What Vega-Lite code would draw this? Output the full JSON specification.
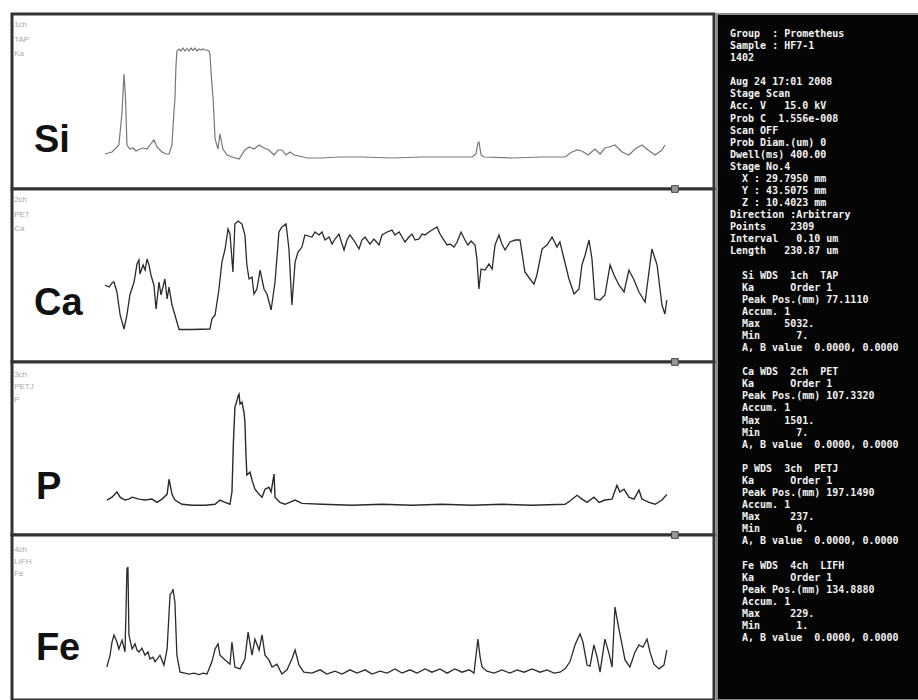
{
"$schema": "https://vega.github.io/schema/vega-lite/v6.json",
"background": "white",
"padding": {"left": 10, "top": 12, "right": 0, "bottom": 0},
"config": {"view": {"stroke": null}},
"datasets": {
"si": [{"d":1.2,"c":270},{"d":4.1,"c":360},{"d":6.9,"c":674},{"d":8.2,"c":2157},{"d":9.0,"c":3864},{"d":9.6,"c":2830},{"d":10.2,"c":674},{"d":11.4,"c":494},{"d":12.7,"c":539},{"d":13.9,"c":404},{"d":15.5,"c":494},{"d":16.8,"c":539},{"d":18.4,"c":494},{"d":19.6,"c":674},{"d":21.2,"c":899},{"d":22.5,"c":584},{"d":24.5,"c":360},{"d":26.2,"c":270},{"d":27.4,"c":270},{"d":28.6,"c":674},{"d":29.4,"c":2157},{"d":29.8,"c":2741},{"d":30.2,"c":4179},{"d":30.6,"c":4897},{"d":31.5,"c":4987},{"d":32.3,"c":4897},{"d":33.1,"c":5032},{"d":33.9,"c":4897},{"d":34.7,"c":5010},{"d":35.5,"c":4897},{"d":36.4,"c":5032},{"d":37.2,"c":4920},{"d":38.0,"c":5032},{"d":38.8,"c":4897},{"d":39.6,"c":4987},{"d":40.5,"c":4942},{"d":41.3,"c":4987},{"d":42.1,"c":4942},{"d":42.9,"c":4942},{"d":43.7,"c":4897},{"d":44.1,"c":4763},{"d":44.7,"c":3729},{"d":45.4,"c":2741},{"d":46.2,"c":944},{"d":47.4,"c":494},{"d":48.2,"c":1168},{"d":49.4,"c":494},{"d":51.1,"c":225},{"d":53.1,"c":135},{"d":56.0,"c":45},{"d":58.4,"c":450},{"d":60.1,"c":584},{"d":62.1,"c":494},{"d":64.2,"c":674},{"d":66.2,"c":539},{"d":68.2,"c":450},{"d":70.3,"c":225},{"d":71.9,"c":450},{"d":73.5,"c":450},{"d":75.2,"c":225},{"d":76.8,"c":360},{"d":78.5,"c":225},{"d":80.5,"c":180},{"d":83.8,"c":90},{"d":89.9,"c":90},{"d":96.8,"c":135},{"d":106.2,"c":135},{"d":118.5,"c":90},{"d":130.8,"c":135},{"d":143.0,"c":135},{"d":151.2,"c":135},{"d":152.8,"c":270},{"d":153.6,"c":764},{"d":154.0,"c":809},{"d":154.9,"c":225},{"d":156.1,"c":135},{"d":167.5,"c":90},{"d":179.8,"c":135},{"d":189.2,"c":135},{"d":192.0,"c":360},{"d":194.1,"c":450},{"d":196.1,"c":404},{"d":198.6,"c":225},{"d":201.4,"c":494},{"d":203.5,"c":270},{"d":205.5,"c":539},{"d":207.2,"c":584},{"d":209.6,"c":674},{"d":212.5,"c":360},{"d":215.3,"c":225},{"d":217.8,"c":494},{"d":220.6,"c":674},{"d":223.1,"c":450},{"d":226.0,"c":225},{"d":228.8,"c":450},{"d":230.0,"c":674}],
"ca": [{"d":1.2,"c":617},{"d":2.9,"c":589},{"d":4.1,"c":644},{"d":4.9,"c":658},{"d":6.1,"c":521},{"d":7.4,"c":206},{"d":9.0,"c":14},{"d":10.2,"c":206},{"d":11.4,"c":480},{"d":13.1,"c":658},{"d":14.3,"c":904},{"d":15.1,"c":959},{"d":15.5,"c":767},{"d":16.8,"c":891},{"d":17.6,"c":822},{"d":18.4,"c":973},{"d":19.2,"c":891},{"d":20.0,"c":754},{"d":21.2,"c":617},{"d":22.1,"c":288},{"d":23.3,"c":658},{"d":24.1,"c":480},{"d":25.7,"c":699},{"d":26.6,"c":425},{"d":27.4,"c":589},{"d":28.6,"c":343},{"d":29.8,"c":206},{"d":31.5,"c":7},{"d":36.8,"c":7},{"d":44.1,"c":14},{"d":44.9,"c":151},{"d":46.2,"c":206},{"d":47.8,"c":562},{"d":49.0,"c":932},{"d":50.3,"c":1110},{"d":51.5,"c":1384},{"d":52.3,"c":1315},{"d":53.5,"c":795},{"d":54.3,"c":1452},{"d":55.6,"c":1493},{"d":57.2,"c":1452},{"d":58.4,"c":1302},{"d":59.2,"c":891},{"d":60.1,"c":699},{"d":61.3,"c":726},{"d":62.1,"c":493},{"d":63.3,"c":562},{"d":64.6,"c":822},{"d":66.2,"c":562},{"d":67.4,"c":493},{"d":69.1,"c":274},{"d":70.7,"c":658},{"d":72.3,"c":1343},{"d":73.5,"c":1411},{"d":75.2,"c":1452},{"d":76.4,"c":1110},{"d":77.6,"c":343},{"d":78.9,"c":932},{"d":80.1,"c":1069},{"d":81.7,"c":1137},{"d":82.9,"c":1302},{"d":85.8,"c":1274},{"d":87.0,"c":1343},{"d":88.7,"c":1302},{"d":89.9,"c":1343},{"d":91.1,"c":1233},{"d":92.8,"c":1274},{"d":94.0,"c":1178},{"d":95.2,"c":1247},{"d":96.8,"c":1315},{"d":98.9,"c":1096},{"d":100.1,"c":1233},{"d":101.3,"c":1302},{"d":103.4,"c":1206},{"d":105.0,"c":1110},{"d":106.2,"c":1233},{"d":107.5,"c":1274},{"d":109.5,"c":1178},{"d":111.1,"c":1247},{"d":113.2,"c":1165},{"d":114.4,"c":1302},{"d":116.5,"c":1343},{"d":118.5,"c":1370},{"d":119.7,"c":1302},{"d":121.4,"c":1343},{"d":122.6,"c":1274},{"d":123.8,"c":1206},{"d":125.4,"c":1274},{"d":126.7,"c":1315},{"d":127.9,"c":1233},{"d":129.5,"c":1247},{"d":130.8,"c":1315},{"d":132.0,"c":1302},{"d":133.6,"c":1343},{"d":134.8,"c":1370},{"d":136.9,"c":1411},{"d":138.1,"c":1315},{"d":139.7,"c":1233},{"d":141.0,"c":1165},{"d":142.2,"c":1178},{"d":143.8,"c":1137},{"d":145.1,"c":1206},{"d":146.7,"c":1343},{"d":148.3,"c":1233},{"d":149.5,"c":1165},{"d":150.8,"c":1219},{"d":152.4,"c":1165},{"d":153.2,"c":973},{"d":154.0,"c":562},{"d":154.9,"c":836},{"d":156.5,"c":822},{"d":158.1,"c":904},{"d":159.4,"c":836},{"d":160.6,"c":1165},{"d":162.2,"c":1302},{"d":163.4,"c":1178},{"d":164.7,"c":1096},{"d":166.7,"c":1206},{"d":168.8,"c":1233},{"d":170.8,"c":1233},{"d":172.8,"c":795},{"d":174.9,"c":699},{"d":176.5,"c":630},{"d":177.7,"c":754},{"d":179.8,"c":1110},{"d":181.8,"c":1165},{"d":183.9,"c":1274},{"d":185.9,"c":1137},{"d":187.1,"c":1206},{"d":188.8,"c":973},{"d":190.8,"c":699},{"d":192.9,"c":493},{"d":194.9,"c":562},{"d":196.1,"c":891},{"d":197.4,"c":1028},{"d":199.0,"c":1233},{"d":200.2,"c":973},{"d":201.4,"c":425},{"d":203.5,"c":411},{"d":205.5,"c":480},{"d":207.6,"c":891},{"d":209.2,"c":754},{"d":211.2,"c":617},{"d":213.3,"c":521},{"d":215.3,"c":822},{"d":217.4,"c":685},{"d":219.4,"c":521},{"d":221.9,"c":384},{"d":224.7,"c":1110},{"d":226.8,"c":891},{"d":228.8,"c":343},{"d":230.0,"c":219},{"d":230.8,"c":411}],
"p": [{"d":2.0,"c":13},{"d":4.1,"c":19},{"d":6.1,"c":30},{"d":7.4,"c":19},{"d":9.4,"c":13},{"d":11.0,"c":15},{"d":12.3,"c":19},{"d":15.1,"c":15},{"d":17.6,"c":13},{"d":20.4,"c":15},{"d":22.5,"c":8},{"d":24.5,"c":15},{"d":26.6,"c":25},{"d":27.4,"c":57},{"d":28.6,"c":25},{"d":29.8,"c":13},{"d":32.7,"c":4},{"d":36.8,"c":2},{"d":42.1,"c":2},{"d":46.2,"c":4},{"d":48.2,"c":13},{"d":50.3,"c":8},{"d":52.3,"c":4},{"d":53.1,"c":30},{"d":53.7,"c":135},{"d":54.3,"c":209},{"d":55.2,"c":224},{"d":55.6,"c":233},{"d":56.0,"c":237},{"d":56.4,"c":216},{"d":57.2,"c":220},{"d":58.0,"c":199},{"d":58.4,"c":178},{"d":58.8,"c":114},{"d":59.2,"c":66},{"d":60.5,"c":72},{"d":61.3,"c":55},{"d":62.5,"c":36},{"d":64.2,"c":25},{"d":65.4,"c":19},{"d":66.6,"c":36},{"d":68.2,"c":40},{"d":69.1,"c":30},{"d":70.3,"c":68},{"d":70.7,"c":19},{"d":72.7,"c":8},{"d":74.8,"c":4},{"d":78.9,"c":13},{"d":81.7,"c":6},{"d":89.9,"c":4},{"d":102.2,"c":2},{"d":114.4,"c":4},{"d":126.7,"c":2},{"d":138.9,"c":4},{"d":151.2,"c":2},{"d":163.4,"c":4},{"d":175.7,"c":2},{"d":189.2,"c":4},{"d":191.2,"c":11},{"d":194.1,"c":23},{"d":196.1,"c":15},{"d":198.2,"c":8},{"d":201.0,"c":19},{"d":203.1,"c":8},{"d":205.5,"c":13},{"d":208.4,"c":15},{"d":210.4,"c":44},{"d":211.6,"c":30},{"d":213.3,"c":36},{"d":215.3,"c":19},{"d":217.4,"c":15},{"d":219.4,"c":34},{"d":220.6,"c":15},{"d":223.5,"c":8},{"d":226.0,"c":4},{"d":228.8,"c":13},{"d":230.8,"c":25}],
"fe": [{"d":2.0,"c":17},{"d":3.3,"c":42},{"d":4.1,"c":70},{"d":4.9,"c":85},{"d":6.1,"c":70},{"d":6.9,"c":55},{"d":8.2,"c":74},{"d":9.4,"c":49},{"d":9.8,"c":134},{"d":10.2,"c":225},{"d":10.6,"c":229},{"d":11.0,"c":85},{"d":12.3,"c":55},{"d":13.5,"c":66},{"d":14.3,"c":53},{"d":15.1,"c":49},{"d":16.3,"c":57},{"d":17.6,"c":42},{"d":18.8,"c":49},{"d":19.6,"c":34},{"d":20.8,"c":38},{"d":21.7,"c":28},{"d":23.7,"c":42},{"d":25.3,"c":21},{"d":26.6,"c":55},{"d":27.8,"c":170},{"d":28.6,"c":176},{"d":29.0,"c":182},{"d":29.8,"c":155},{"d":30.6,"c":42},{"d":31.9,"c":6},{"d":33.9,"c":4},{"d":35.5,"c":2},{"d":37.6,"c":4},{"d":39.6,"c":1},{"d":41.3,"c":4},{"d":42.9,"c":2},{"d":44.9,"c":28},{"d":46.2,"c":55},{"d":47.4,"c":66},{"d":48.2,"c":42},{"d":50.3,"c":32},{"d":52.3,"c":23},{"d":53.1,"c":70},{"d":54.3,"c":17},{"d":56.4,"c":13},{"d":58.4,"c":34},{"d":59.7,"c":91},{"d":61.3,"c":42},{"d":62.5,"c":76},{"d":64.2,"c":53},{"d":65.4,"c":85},{"d":66.6,"c":42},{"d":68.2,"c":32},{"d":69.5,"c":17},{"d":71.5,"c":23},{"d":73.5,"c":2},{"d":75.6,"c":11},{"d":77.6,"c":34},{"d":78.9,"c":53},{"d":80.5,"c":21},{"d":82.5,"c":6},{"d":85.8,"c":4},{"d":89.1,"c":11},{"d":91.9,"c":2},{"d":95.2,"c":8},{"d":98.1,"c":2},{"d":101.3,"c":11},{"d":104.2,"c":4},{"d":107.5,"c":11},{"d":110.3,"c":2},{"d":113.6,"c":8},{"d":116.5,"c":4},{"d":119.7,"c":13},{"d":122.6,"c":4},{"d":125.8,"c":11},{"d":128.7,"c":4},{"d":132.0,"c":13},{"d":134.8,"c":6},{"d":138.1,"c":13},{"d":141.0,"c":4},{"d":144.2,"c":13},{"d":147.1,"c":6},{"d":150.0,"c":11},{"d":152.0,"c":4},{"d":153.6,"c":76},{"d":154.5,"c":38},{"d":155.3,"c":17},{"d":157.3,"c":8},{"d":160.2,"c":4},{"d":163.4,"c":11},{"d":166.7,"c":4},{"d":169.6,"c":11},{"d":172.4,"c":6},{"d":175.7,"c":13},{"d":179.0,"c":6},{"d":181.8,"c":11},{"d":184.7,"c":4},{"d":187.1,"c":6},{"d":189.2,"c":13},{"d":191.2,"c":28},{"d":193.3,"c":64},{"d":195.3,"c":87},{"d":196.5,"c":70},{"d":198.2,"c":21},{"d":199.4,"c":19},{"d":201.0,"c":64},{"d":202.3,"c":38},{"d":203.5,"c":6},{"d":205.5,"c":76},{"d":207.2,"c":45},{"d":208.4,"c":17},{"d":209.6,"c":144},{"d":211.2,"c":98},{"d":212.5,"c":64},{"d":213.7,"c":32},{"d":215.7,"c":17},{"d":217.8,"c":49},{"d":219.4,"c":64},{"d":221.0,"c":59},{"d":222.7,"c":76},{"d":223.9,"c":49},{"d":225.5,"c":23},{"d":227.6,"c":13},{"d":229.6,"c":21},{"d":230.8,"c":53}],
"info": [
{"i":0,"s":"h","t":"Group\u00a0\u00a0: Prometheus"},
{"i":1,"s":"h","t":"Sample : HF7-1"},
{"i":2,"s":"h","t":"1402"},
{"i":4,"s":"h","t":"Aug 24 17:01 2008"},
{"i":5,"s":"h","t":"Stage Scan"},
{"i":6,"s":"h","t":"Acc. V\u00a0\u00a0\u00a015.0 kV"},
{"i":7,"s":"h","t":"Prob C\u00a0\u00a01.556e-008"},
{"i":8,"s":"h","t":"Scan OFF"},
{"i":9,"s":"h","t":"Prob Diam.(um) 0"},
{"i":10,"s":"h","t":"Dwell(ms) 400.00"},
{"i":11,"s":"h","t":"Stage No.4"},
{"i":12,"s":"c","t":"X : 29.7950 mm"},
{"i":13,"s":"c","t":"Y : 43.5075 mm"},
{"i":14,"s":"c","t":"Z : 10.4023 mm"},
{"i":15,"s":"h","t":"Direction :Arbitrary"},
{"i":16,"s":"h","t":"Points\u00a0\u00a0\u00a0\u00a02309"},
{"i":17,"s":"h","t":"Interval\u00a0\u00a0\u00a00.10 um"},
{"i":18,"s":"h","t":"Length\u00a0\u00a0\u00a0230.87 um"},
{"i":20,"s":"c","t":"Si WDS\u00a0\u00a01ch\u00a0\u00a0TAP"},
{"i":21,"s":"c","t":"Ka\u00a0\u00a0\u00a0\u00a0\u00a0\u00a0Order 1"},
{"i":22,"s":"c","t":"Peak Pos.(mm) 77.1110"},
{"i":23,"s":"c","t":"Accum. 1"},
{"i":24,"s":"c","t":"Max\u00a0\u00a0\u00a0\u00a05032."},
{"i":25,"s":"c","t":"Min\u00a0\u00a0\u00a0\u00a0\u00a0\u00a07."},
{"i":26,"s":"c","t":"A, B value\u00a0\u00a00.0000, 0.0000"},
{"i":28,"s":"c","t":"Ca WDS\u00a0\u00a02ch\u00a0\u00a0PET"},
{"i":29,"s":"c","t":"Ka\u00a0\u00a0\u00a0\u00a0\u00a0\u00a0Order 1"},
{"i":30,"s":"c","t":"Peak Pos.(mm) 107.3320"},
{"i":31,"s":"c","t":"Accum. 1"},
{"i":32,"s":"c","t":"Max\u00a0\u00a0\u00a0\u00a01501."},
{"i":33,"s":"c","t":"Min\u00a0\u00a0\u00a0\u00a0\u00a0\u00a07."},
{"i":34,"s":"c","t":"A, B value\u00a0\u00a00.0000, 0.0000"},
{"i":36,"s":"c","t":"P WDS\u00a0\u00a03ch\u00a0\u00a0PETJ"},
{"i":37,"s":"c","t":"Ka\u00a0\u00a0\u00a0\u00a0\u00a0\u00a0Order 1"},
{"i":38,"s":"c","t":"Peak Pos.(mm) 197.1490"},
{"i":39,"s":"c","t":"Accum. 1"},
{"i":40,"s":"c","t":"Max\u00a0\u00a0\u00a0\u00a0\u00a0237."},
{"i":41,"s":"c","t":"Min\u00a0\u00a0\u00a0\u00a0\u00a0\u00a00."},
{"i":42,"s":"c","t":"A, B value\u00a0\u00a00.0000, 0.0000"},
{"i":44,"s":"c","t":"Fe WDS\u00a0\u00a04ch\u00a0\u00a0LIFH"},
{"i":45,"s":"c","t":"Ka\u00a0\u00a0\u00a0\u00a0\u00a0\u00a0Order 1"},
{"i":46,"s":"c","t":"Peak Pos.(mm) 134.8880"},
{"i":47,"s":"c","t":"Accum. 1"},
{"i":48,"s":"c","t":"Max\u00a0\u00a0\u00a0\u00a0\u00a0229."},
{"i":49,"s":"c","t":"Min\u00a0\u00a0\u00a0\u00a0\u00a0\u00a01."},
{"i":50,"s":"c","t":"A, B value\u00a0\u00a00.0000, 0.0000"}
]
},
"spacing": 0,
"hconcat": [
{
"spacing": 0,
"bounds": "flush",
"vconcat": [
{
"width": 702, "height": 175,
"view": {"fill": "white", "stroke": "#333333", "strokeWidth": 3},
"layer": [
{"data": {"name": "si"}, "mark": {"type": "line", "color": "#777777", "strokeWidth": 1.2},
 "encoding": {
 "x": {"field": "d", "type": "quantitative", "scale": {"domain": [-36.77, 250.06], "nice": false, "zero": false}, "axis": null},
 "y": {"field": "c", "type": "quantitative", "scale": {"domain": [-1303, 6560], "nice": false, "zero": false}, "axis": null}}},
{"data": {"values": [{"el": "Si"}]}, "mark": {"type": "text", "font": "Liberation Sans", "fontSize": 38, "fontWeight": "bold", "align": "left", "baseline": "alphabetic", "color": "#111111"},
 "encoding": {"x": {"datum": -27.8, "type": "quantitative"}, "y": {"datum": 359, "type": "quantitative"}, "text": {"field": "el", "type": "nominal"}}},
{"data": {"values": [{"el": "Si"}]}, "mark": {"type": "text", "text": ["1ch", "TAP", "Ka"], "lineHeight": 14.5, "font": "Liberation Sans", "fontSize": 8, "align": "left", "baseline": "top", "color": "#aaaaaa"},
 "encoding": {"x": {"datum": -35.9, "type": "quantitative"}, "y": {"datum": 6245, "type": "quantitative"}}}
]
},
{
"width": 702, "height": 173,
"view": {"fill": "white", "stroke": "#333333", "strokeWidth": 3},
"layer": [
{"data": {"name": "ca"}, "mark": {"type": "line", "color": "#2a2a2a", "strokeWidth": 1.3},
 "encoding": {
 "x": {"field": "d", "type": "quantitative", "scale": {"domain": [-36.77, 250.06], "nice": false, "zero": false}, "axis": null},
 "y": {"field": "c", "type": "quantitative", "scale": {"domain": [-438, 1932], "nice": false, "zero": false}, "axis": null}}},
{"data": {"values": [{"el": "Ca"}]}, "mark": {"type": "text", "font": "Liberation Sans", "fontSize": 38, "fontWeight": "bold", "align": "left", "baseline": "alphabetic", "color": "#111111"},
 "encoding": {"x": {"datum": -27.8, "type": "quantitative"}, "y": {"datum": 206, "type": "quantitative"}, "text": {"field": "el", "type": "nominal"}}},
{"data": {"values": [{"el": "Ca"}]}, "mark": {"type": "text", "text": ["2ch", "PET", "Ca"], "lineHeight": 14.5, "font": "Liberation Sans", "fontSize": 8, "align": "left", "baseline": "top", "color": "#aaaaaa"},
 "encoding": {"x": {"datum": -35.9, "type": "quantitative"}, "y": {"datum": 1836, "type": "quantitative"}}},
{"data": {"values": [{"d": 234.1}]}, "mark": {"type": "point", "shape": "square", "size": 45, "filled": true, "color": "#9a9a9a", "stroke": "#444444", "strokeWidth": 1, "opacity": 1},
 "encoding": {"x": {"field": "d", "type": "quantitative"}, "y": {"datum": 1932, "type": "quantitative"}}}
]
},
{
"width": 702, "height": 173,
"view": {"fill": "white", "stroke": "#333333", "strokeWidth": 3},
"layer": [
{"data": {"name": "p"}, "mark": {"type": "line", "color": "#2a2a2a", "strokeWidth": 1.4},
 "encoding": {
 "x": {"field": "d", "type": "quantitative", "scale": {"domain": [-36.77, 250.06], "nice": false, "zero": false}, "axis": null},
 "y": {"field": "c", "type": "quantitative", "scale": {"domain": [-61, 305], "nice": false, "zero": false}, "axis": null}}},
{"data": {"values": [{"el": "P"}]}, "mark": {"type": "text", "font": "Liberation Sans", "fontSize": 38, "fontWeight": "bold", "align": "left", "baseline": "alphabetic", "color": "#111111"},
 "encoding": {"x": {"datum": -27.0, "type": "quantitative"}, "y": {"datum": 15, "type": "quantitative"}, "text": {"field": "el", "type": "nominal"}}},
{"data": {"values": [{"el": "P"}]}, "mark": {"type": "text", "text": ["3ch", "PETJ", "P"], "lineHeight": 12.5, "font": "Liberation Sans", "fontSize": 8, "align": "left", "baseline": "top", "color": "#aaaaaa"},
 "encoding": {"x": {"datum": -35.9, "type": "quantitative"}, "y": {"datum": 286, "type": "quantitative"}}},
{"data": {"values": [{"d": 234.1}]}, "mark": {"type": "point", "shape": "square", "size": 45, "filled": true, "color": "#9a9a9a", "stroke": "#444444", "strokeWidth": 1, "opacity": 1},
 "encoding": {"x": {"field": "d", "type": "quantitative"}, "y": {"datum": 305, "type": "quantitative"}}}
]
},
{
"width": 702, "height": 165,
"view": {"fill": "white", "stroke": "#333333", "strokeWidth": 3},
"layer": [
{"data": {"name": "fe"}, "mark": {"type": "line", "color": "#2a2a2a", "strokeWidth": 1.3},
 "encoding": {
 "x": {"field": "d", "type": "quantitative", "scale": {"domain": [-36.77, 250.06], "nice": false, "zero": false}, "axis": null},
 "y": {"field": "c", "type": "quantitative", "scale": {"domain": [-53, 297], "nice": false, "zero": false}, "axis": null}}},
{"data": {"values": [{"el": "Fe"}]}, "mark": {"type": "text", "font": "Liberation Sans", "fontSize": 38, "fontWeight": "bold", "align": "left", "baseline": "alphabetic", "color": "#111111"},
 "encoding": {"x": {"datum": -27.0, "type": "quantitative"}, "y": {"datum": 32, "type": "quantitative"}, "text": {"field": "el", "type": "nominal"}}},
{"data": {"values": [{"el": "Fe"}]}, "mark": {"type": "text", "text": ["4ch", "LIFH", "Fe"], "lineHeight": 12, "font": "Liberation Sans", "fontSize": 8, "align": "left", "baseline": "top", "color": "#aaaaaa"},
 "encoding": {"x": {"datum": -35.9, "type": "quantitative"}, "y": {"datum": 273, "type": "quantitative"}}},
{"data": {"values": [{"d": 234.1}]}, "mark": {"type": "point", "shape": "square", "size": 45, "filled": true, "color": "#9a9a9a", "stroke": "#444444", "strokeWidth": 1, "opacity": 1},
 "encoding": {"x": {"field": "d", "type": "quantitative"}, "y": {"datum": 297, "type": "quantitative"}}}
]
}
]
},
{
"width": 205, "height": 686,
"view": {"fill": "#050505", "stroke": "#8a8a8a", "strokeWidth": 2},
"data": {"name": "info"},
"mark": {"type": "text", "font": "DejaVu Sans Mono", "fontSize": 10, "fontWeight": "bold", "color": "#f2f2f2", "align": "left", "baseline": "middle"},
"encoding": {
"x": {"field": "s", "type": "nominal", "scale": {"type": "point", "domain": ["h", "c"], "range": [13, 25], "padding": 0}, "axis": null},
"y": {"field": "i", "type": "quantitative", "scale": {"domain": [-1.656, 55.13], "reverse": true, "nice": false, "zero": false}, "axis": null},
"text": {"field": "t"}
}
}
]
}
